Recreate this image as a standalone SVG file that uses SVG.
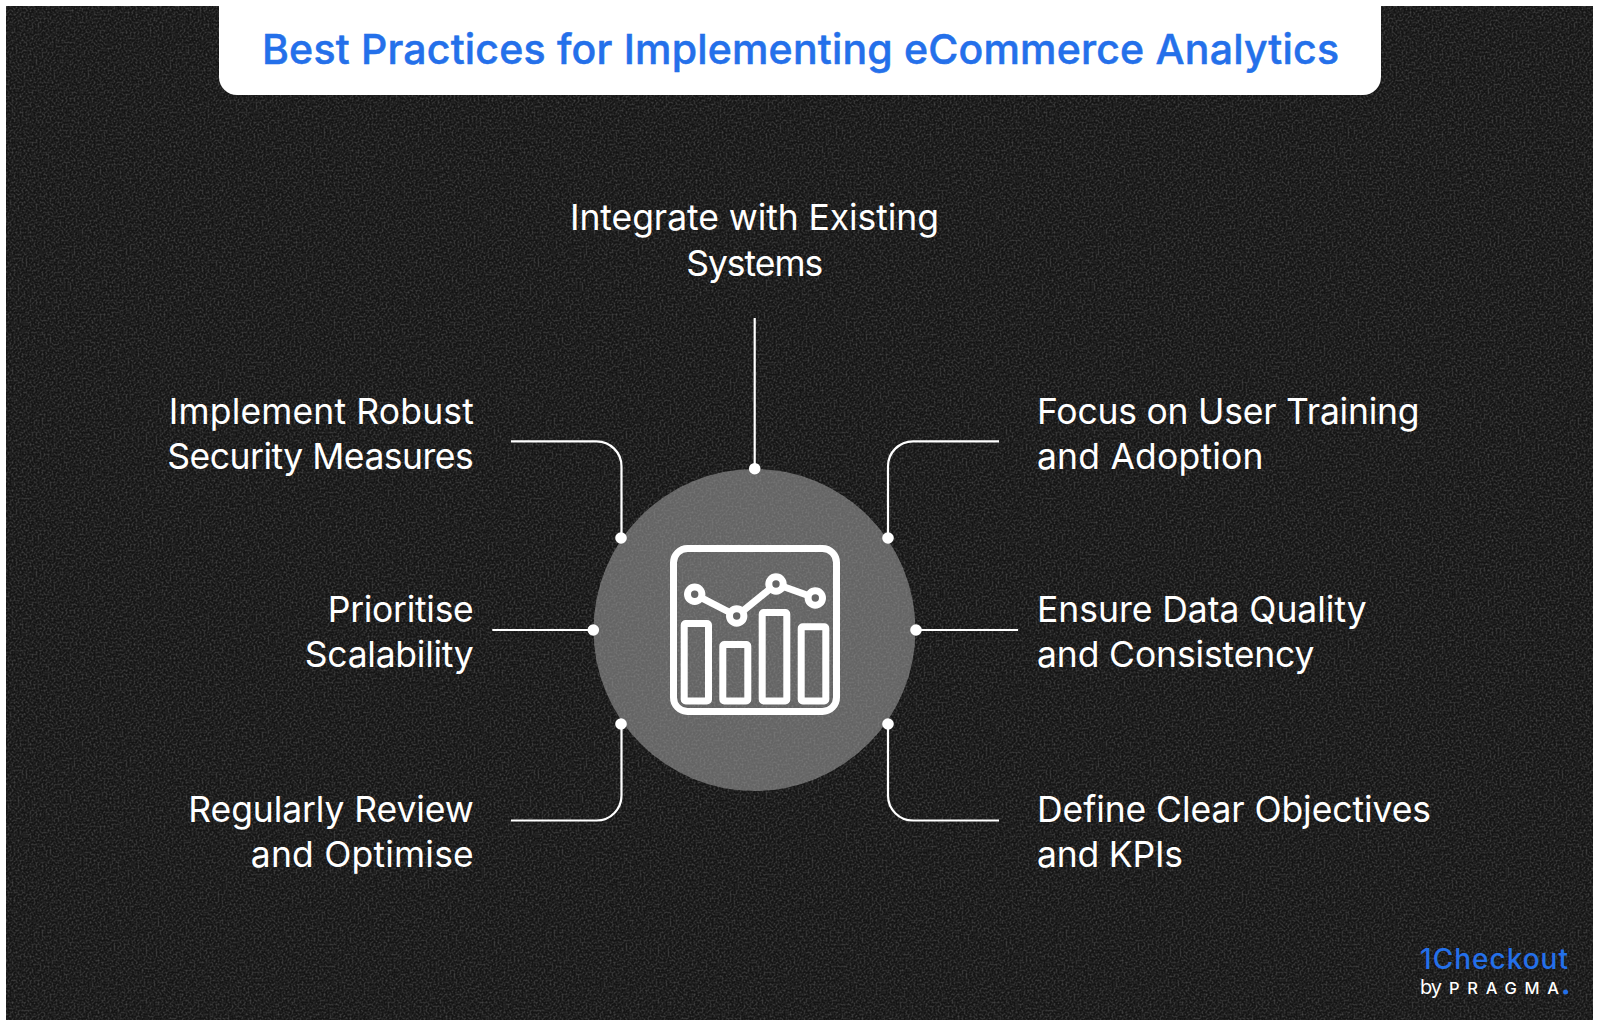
<svg xmlns="http://www.w3.org/2000/svg" width="1600" height="1026" viewBox="0 0 1600 1026">
<style>
.t{font-family:"Inter","Liberation Sans",sans-serif;font-size:35.5px;fill:#fff;font-weight:400}
.e{text-anchor:end}
.c{text-anchor:middle}
.l{fill:none;stroke:#fff;stroke-width:2.2}
.d{fill:#fff}
.i{fill:none;stroke:#fff;stroke-width:7;stroke-linejoin:round}
.r{fill:#666;stroke:#fff;stroke-width:7}
.h{font-family:"Inter","Liberation Sans",sans-serif;fill:#2470ea}
.w{font-family:"Inter","Liberation Sans",sans-serif;fill:#fff}
</style>
<defs>
<filter id="grain" x="0" y="0" width="100%" height="100%">
<feTurbulence type="fractalNoise" baseFrequency="0.5" numOctaves="3" seed="9"/>
<feColorMatrix type="matrix" values="0 0 0 0 1 0 0 0 0 1 0 0 0 0 1 1.8 0 0 0 -0.72"/>
<feComposite operator="in" in2="SourceGraphic"/>
</filter>
</defs>
<rect width="1600" height="1026" fill="#fff"/>
<rect x="6" y="6" width="1587" height="1014" fill="#151515"/>
<rect x="6" y="6" width="1587" height="1014" filter="url(#grain)" opacity="0.25"/>
<g id="title">
<path d="M219 6H1381V77a18 18 0 0 1-18 18H237a18 18 0 0 1-18-18Z" fill="#fff"/>
<text class="h" x="262" y="64" textLength="1077" lengthAdjust="spacing" style="font-size:41px;font-weight:500;stroke:#2470ea;stroke-width:0.5">Best Practices for Implementing eCommerce Analytics</text>
</g>
<g id="hub">
<circle cx="754.5" cy="630" r="161" fill="#646464"/>
<circle cx="754.5" cy="630" r="161" filter="url(#grain)" opacity="0.16"/>
<rect x="673.5" y="548.5" width="163" height="163" rx="14" class="i"/>
<rect x="684.2" y="623.5" width="24.3" height="77.5" rx="1.5" class="i"/>
<rect x="722.8" y="644.5" width="25" height="56.5" rx="1.5" class="i"/>
<rect x="762.2" y="612.5" width="24.6" height="88.5" rx="1.5" class="i"/>
<rect x="801.2" y="626.8" width="24.6" height="74.2" rx="1.5" class="i"/>
<path d="M694.7 594.3L736.7 616L776 584L815.3 598" class="i"/>
<circle cx="694.7" cy="594.3" r="7.2" class="r"/>
<circle cx="736.7" cy="616" r="7.2" class="r"/>
<circle cx="776" cy="584" r="7.2" class="r"/>
<circle cx="815.3" cy="598" r="7.2" class="r"/>
</g>
<g id="connectors">
<path class="l" d="M754.7 318V469"/>
<path class="l" d="M511 441.300H596.500a25 25 0 0 1 25 25V538"/>
<path class="l" d="M999 441.300H913a25 25 0 0 0-25 25V538"/>
<path class="l" d="M492.300 630H594"/>
<path class="l" d="M1018 630H916"/>
<path class="l" d="M511 820.500H596.500a25 25 0 0 0 25-25V724"/>
<path class="l" d="M999 820.500H913a25 25 0 0 1-25-25V724"/>
<circle class="d" cx="754.700" cy="468.700" r="5.800"/>
<circle class="d" cx="621" cy="538" r="5.800"/>
<circle class="d" cx="888" cy="538" r="5.800"/>
<circle class="d" cx="593.300" cy="630" r="5.800"/>
<circle class="d" cx="916" cy="630" r="5.800"/>
<circle class="d" cx="621" cy="724" r="5.800"/>
<circle class="d" cx="888" cy="724" r="5.800"/>
</g>
<g id="n1"><text class="t c" x="754.500" y="230" textLength="369" lengthAdjust="spacing">Integrate with Existing</text><text class="t c" x="754.700" y="276" textLength="137" lengthAdjust="spacing">Systems</text></g>
<g id="n2"><text class="t e" x="473.800" y="423.500" textLength="305" lengthAdjust="spacing">Implement Robust</text><text class="t e" x="473.800" y="468.500" textLength="306.500" lengthAdjust="spacing">Security Measures</text></g>
<g id="n3"><text class="t e" x="473.800" y="621.500" textLength="146" lengthAdjust="spacing">Prioritise</text><text class="t e" x="473.800" y="666.500" textLength="169" lengthAdjust="spacing">Scalability</text></g>
<g id="n4"><text class="t e" x="473.800" y="821.500" textLength="285.500" lengthAdjust="spacing">Regularly Review</text><text class="t e" x="473.800" y="866.500" textLength="223" lengthAdjust="spacing">and Optimise</text></g>
<g id="n5"><text class="t" x="1037" y="423.500" textLength="382.600" lengthAdjust="spacing">Focus on User Training</text><text class="t" x="1037" y="468.500" textLength="226.500" lengthAdjust="spacing">and Adoption</text></g>
<g id="n6"><text class="t" x="1037" y="621.500" textLength="329.600" lengthAdjust="spacing">Ensure Data Quality</text><text class="t" x="1037" y="666.500" textLength="277.500" lengthAdjust="spacing">and Consistency</text></g>
<g id="n7"><text class="t" x="1037" y="821.500" textLength="394" lengthAdjust="spacing">Define Clear Objectives</text><text class="t" x="1037" y="866.500" textLength="146" lengthAdjust="spacing">and KPIs</text></g>
<g id="logo">
<text class="h" x="1420" y="969" textLength="148" lengthAdjust="spacing" style="font-size:28px;font-weight:500">1Checkout</text>
<text class="w" x="1420" y="994" textLength="22" lengthAdjust="spacing" style="font-size:20px">by</text>
<text class="w" x="1449" y="994" textLength="110" lengthAdjust="spacing" style="font-size:16.500px;font-weight:500">PRAGMA</text>
<circle cx="1565.500" cy="992" r="2.500" fill="#2470ea"/>
</g>
</svg>
